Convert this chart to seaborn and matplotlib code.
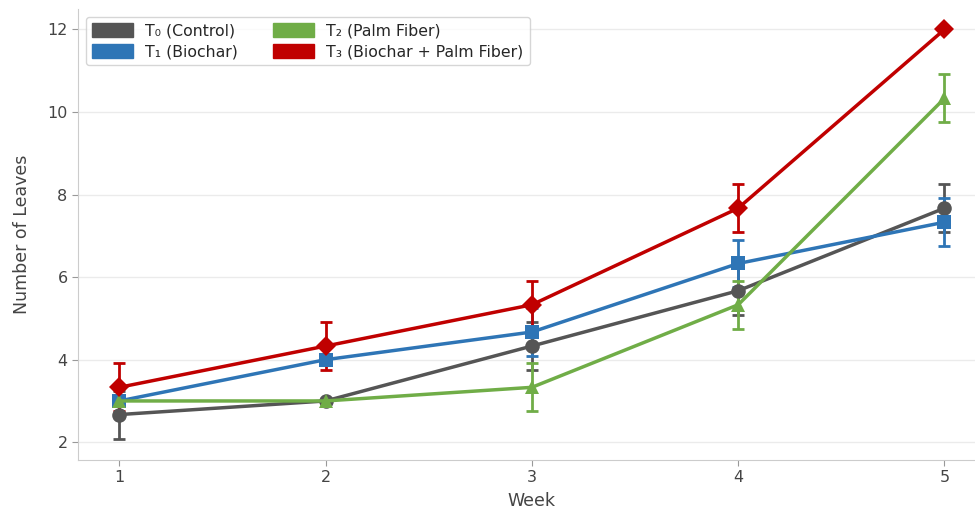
import numpy as np
import pandas as pd
import seaborn as sns
import matplotlib.pyplot as plt
from matplotlib.patches import Patch

weeks = [1, 2, 3, 4, 5]
labels = ["T₀ (Control)", "T₁ (Biochar)", "T₂ (Palm Fiber)", "T₃ (Biochar + Palm Fiber)"]
t0_mean = [2.67, 3.0, 4.33, 5.67, 7.67]
t1_mean = [3.0, 4.0, 4.67, 6.33, 7.33]
t2_mean = [3.0, 3.0, 3.33, 5.33, 10.33]
t3_mean = [3.33, 4.33, 5.33, 7.67, 12.0]
t0_sd = [0.58, 0.0, 0.58, 0.58, 0.58]
t1_sd = [0.0, 0.0, 0.58, 0.58, 0.58]
t2_sd = [0.0, 0.0, 0.58, 0.58, 0.58]
t3_sd = [0.58, 0.58, 0.58, 0.58, 0.0]

colors = ["#555555", "#2e75b6", "#70ad47", "#c00000"]
markers = ["o", "s", "^", "D"]

means = [t0_mean, t1_mean, t2_mean, t3_mean]
sds = [t0_sd, t1_sd, t2_sd, t3_sd]

df = pd.concat([
    pd.DataFrame({"Week": weeks, "Leaves": m, "sd": s, "Treatment": lab})
    for m, s, lab in zip(means, sds, labels)
])

sns.set_style("ticks")
plt.rcParams['font.family'] = ['DejaVu Sans']

fig = plt.figure(figsize=(9.75, 5.18), dpi=100)
ax = fig.add_axes([0.08, 0.112, 0.931, 0.871])

for lab, col, mk in zip(labels, colors, markers):
    sub = df[df["Treatment"] == lab]
    ax.errorbar(sub["Week"], sub["Leaves"], yerr=sub["sd"], fmt="none",
                ecolor=col, elinewidth=2, capsize=4, capthick=2, zorder=2)
    sns.lineplot(data=sub, x="Week", y="Leaves", color=col, marker=mk,
                 markersize=10.5, markeredgewidth=0, linewidth=2.5,
                 ax=ax, legend=False, zorder=3)

ax.set_xticks(weeks)
ax.set_yticks([2, 4, 6, 8, 10, 12])
ax.set_xlim(0.8, 5.2)
ax.set_ylim(1.57, 12.5)
ax.yaxis.grid(True, color="#ebebeb", linewidth=1)
ax.set_axisbelow(True)
sns.despine(ax=ax)
for sp in ["left", "bottom"]:
    ax.spines[sp].set_color("#cccccc")
ax.tick_params(colors="#444444", labelsize=11.5, length=4, color="#999999")
ax.set_xlabel("Week", fontsize=12.5, color="#444444", labelpad=5)
ax.set_ylabel("Number of Leaves", fontsize=12.5, color="#444444", labelpad=12)

handles = [Patch(facecolor=c, edgecolor=c, label=l) for c, l in zip(colors, labels)]
ax.legend(handles=handles, loc="upper left", ncol=2, fontsize=11.3,
          frameon=True, edgecolor="#cccccc", fancybox=True,
          handlelength=2.6, handleheight=1.0, columnspacing=2.2,
          labelspacing=0.35, bbox_to_anchor=(0.0, 1.0))

fig.savefig("out.png", dpi=100)
